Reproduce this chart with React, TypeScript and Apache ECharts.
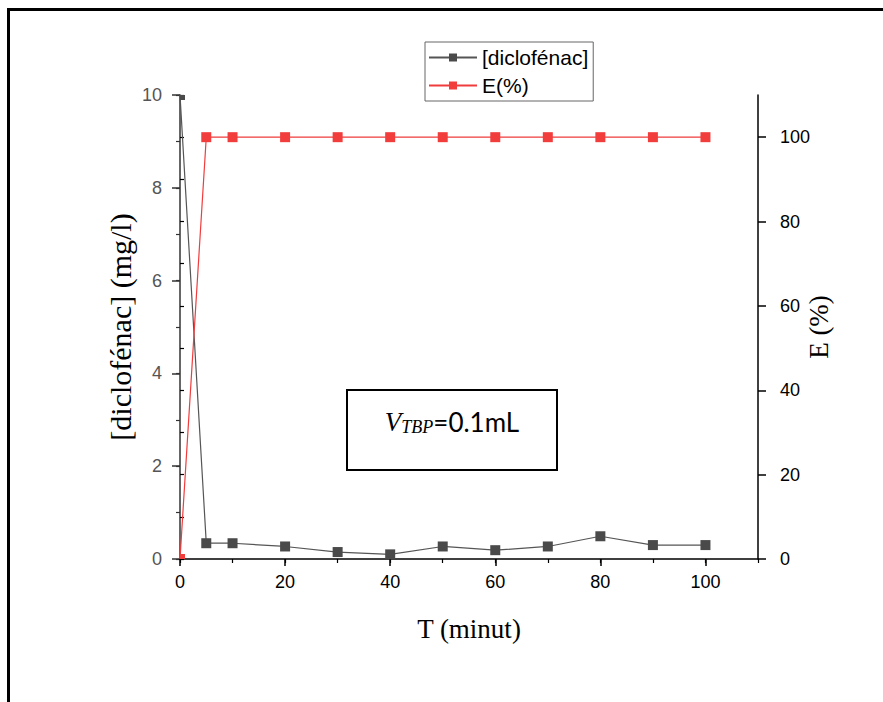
import React, { useEffect, useRef } from "react";
import * as echarts from "echarts";

const times = [0, 5, 10, 20, 30, 40, 50, 60, 70, 80, 90, 100];
const diclofenac = [10, 0.34, 0.34, 0.27, 0.15, 0.1, 0.27, 0.19, 0.27, 0.49, 0.3, 0.3];
const efficiency = [0, 100, 100, 100, 100, 100, 100, 100, 100, 100, 100, 100];
const seriesNames = ["[diclofénac]", "E(%)"];
const axisTitles = { x: "T (minut)", left: "[diclofénac] (mg/l)", right: "E (%)" };

const SANS = "Liberation Sans, Arial, sans-serif";
const SERIF = "Liberation Serif, Times New Roman, serif";

export default function App() {
  const ref = useRef<HTMLDivElement>(null);
  useEffect(() => {
    if (!ref.current) return;
    const chart = echarts.init(ref.current, null, { renderer: "svg" });
    const firstClip = (i: number, off: number[]) =>
      i === 0 ? { symbolSize: 5, symbolOffset: off } : {};
    const dData = times.map((t, i) => ({ value: [t, diclofenac[i]], ...firstClip(i, [2.5, 2.5]) }));
    const eData = times.map((t, i) => ({ value: [t, efficiency[i]], ...firstClip(i, [2.5, -2.5]) }));
    const grid = { left: 180, right: 125, top: 95, bottom: 143 };
    chart.setOption({
      animation: false,
      backgroundColor: "#ffffff",
      grid,
      legend: {
        orient: "vertical",
        left: 425,
        top: 42,
        padding: [5, 5, 5, 3],
        itemGap: 7,
        itemWidth: 48,
        itemHeight: 10,
        borderColor: "#666",
        borderWidth: 1,
        borderRadius: 0,
        textStyle: { fontFamily: SANS, fontSize: 21, color: "#000" },
        data: seriesNames,
      },
      xAxis: [
        {
          type: "value",
          min: 0,
          max: 110,
          interval: 20,
          position: "bottom",
          name: axisTitles.x,
          nameLocation: "middle",
          nameGap: 56,
          nameMoveOverlap: false,
          nameTextStyle: { fontFamily: SERIF, fontSize: 27, color: "#000" },
          axisLine: { onZero: false, lineStyle: { color: "#000", width: 1.5 } },
          axisTick: { length: 7, lineStyle: { color: "#000", width: 1.5 } },
          axisLabel: { fontFamily: SANS, fontSize: 18, color: "#000", margin: 14, showMaxLabel: false },
          splitLine: { show: false },
        },
        {
          type: "value",
          min: 0,
          max: 110,
          interval: 10,
          position: "bottom",
          axisLine: { show: false },
          axisTick: { length: 4, lineStyle: { color: "#000", width: 1.2 } },
          axisLabel: { show: false },
          splitLine: { show: false },
        },
      ],
      yAxis: [
        {
          type: "value",
          min: 0,
          max: 10,
          interval: 2,
          position: "left",
          name: axisTitles.left,
          nameLocation: "middle",
          nameRotate: 90,
          nameGap: 45,
          nameMoveOverlap: false,
          nameTextStyle: { fontFamily: SERIF, fontSize: 30, color: "#000" },
          axisLine: { onZero: false, lineStyle: { color: "#333", width: 1.5 } },
          axisTick: { length: 8, lineStyle: { color: "#333", width: 1.5 } },
          axisLabel: { fontFamily: SANS, fontSize: 18, color: "#555", margin: 18 },
          splitLine: { show: false },
        },
        {
          type: "value",
          min: 0,
          max: 10,
          interval: 1,
          position: "left",
          axisLine: { show: false },
          axisTick: { length: 4, lineStyle: { color: "#333", width: 1.2 } },
          axisLabel: { show: false },
          splitLine: { show: false },
        },
        {
          type: "value",
          min: 0,
          max: 110,
          interval: 20,
          position: "right",
          name: axisTitles.right,
          nameLocation: "middle",
          nameRotate: 90,
          nameGap: 47,
          nameMoveOverlap: false,
          nameTextStyle: { fontFamily: SERIF, fontSize: 27, color: "#000" },
          axisLine: { onZero: false, lineStyle: { color: "#000", width: 1.5 } },
          axisTick: { length: 8, lineStyle: { color: "#000", width: 1.5 } },
          axisLabel: { fontFamily: SANS, fontSize: 18, color: "#000", margin: 22, showMaxLabel: false },
          splitLine: { show: false },
        },
        {
          type: "value",
          min: 0,
          max: 110,
          interval: 10,
          position: "right",
          axisLine: { show: false },
          axisTick: { length: 4, lineStyle: { color: "#000", width: 1.2 } },
          axisLabel: { show: false },
          splitLine: { show: false },
        },
      ],
      series: [
        {
          name: seriesNames[0],
          type: "line",
          xAxisIndex: 0,
          yAxisIndex: 0,
          data: dData,
          symbol: "rect",
          symbolSize: 10,
          clip: false,
          lineStyle: { color: "#555", width: 1.2 },
          itemStyle: { color: "#4a4a4a" },
        },
        {
          name: seriesNames[1],
          type: "line",
          xAxisIndex: 0,
          yAxisIndex: 2,
          data: eData,
          symbol: "rect",
          symbolSize: 10,
          clip: false,
          lineStyle: { color: "#f03c3c", width: 1.2 },
          itemStyle: { color: "#f23d3d" },
        },
      ],
      graphic: [
        { type: "rect", shape: { x: 7, y: 8, width: 876, height: 3 }, style: { fill: "#000" } },
        { type: "rect", shape: { x: 7, y: 8, width: 3, height: 694 }, style: { fill: "#000" } },
        {
          type: "rect",
          shape: { x: 347, y: 390, width: 210, height: 80 },
          style: { fill: "#fff", stroke: "#000", lineWidth: 2 },
          z: 10,
        },
        {
          type: "text",
          x: 452,
          y: 422,
          z: 11,
          style: {
            text: "{v|V}{s|TBP}{n|=0.1mL}",
            align: "center",
            verticalAlign: "middle",
            rich: {
              v: { fontFamily: SERIF, fontStyle: "italic", fontSize: 27, fill: "#000" },
              s: { fontFamily: SERIF, fontStyle: "italic", fontSize: 18, fill: "#000", padding: [10, 0, 0, 0] },
              n: { fontFamily: "Lato, Open Sans, sans-serif", fontSize: 26, fill: "#000" },
            },
          },
        },
      ],
    });
    return () => chart.dispose();
  }, []);
  return (
    <div
      ref={ref}
      style={{ position: "fixed", left: 0, top: 0, width: 883, height: 702, background: "#fff" }}
    />
  );
}
